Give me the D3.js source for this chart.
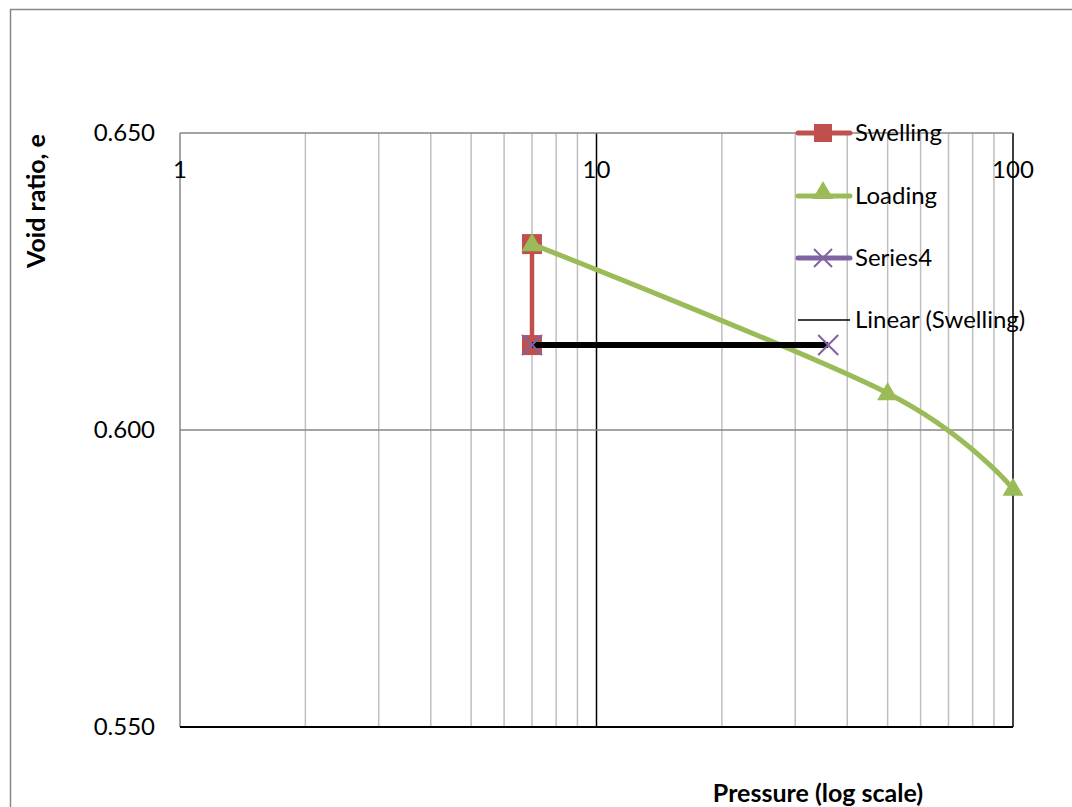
<!DOCTYPE html>
<html>
<head>
<meta charset="utf-8">
<script src="https://cdn.jsdelivr.net/npm/d3@7"></script>
<style>
  html, body { margin: 0; padding: 0; background: #fff; }
  svg { display: block; font-family: Lato, "Open Sans", "Liberation Sans", sans-serif; }
</style>
</head>
<body>
<svg id="chart" width="1072" height="807"></svg>
<script>
// Oedometer test: void ratio against pressure (log scale)
const swellingP = [7, 7];
const swellingE = [0.6313, 0.6143];

const loadingP = [7, 50, 100];
const loadingE = [0.6313, 0.6062, 0.5901];

const series4P = [7, 36];
const series4E = [0.6143, 0.6143];

const trendP = [7, 36];
const trendE = [0.6143, 0.6143];

const xTickValues = [1, 10, 100];
const yTickValues = [0.55, 0.60, 0.65];
const legendNames = ["Swelling", "Loading", "Series4", "Linear (Swelling)"];

const svg = d3.select("#chart");

const plotLeft = 180, plotRight = 1013, plotTop = 133, plotBottom = 727;
const x = d3.scaleLog().domain([1, 100]).range([plotLeft, plotRight]);
const y = d3.scaleLinear().domain([0.55, 0.65]).range([plotBottom, plotTop]);

const red = "#c0504d", green = "#9bbb59", purple = "#8064a2";

// outer chart frame
svg.append("rect")
  .attr("x", 10.5).attr("y", 9.5)
  .attr("width", 1100).attr("height", 900)
  .attr("fill", "none").attr("stroke", "#868686").attr("stroke-width", 1.5);

// minor vertical gridlines
const minor = [];
[1, 10].forEach(d => { for (let k = 2; k <= 9; k++) minor.push(d * k); });
svg.append("g").selectAll("line").data(minor).join("line")
  .attr("x1", d => x(d)).attr("x2", d => x(d))
  .attr("y1", plotTop).attr("y2", plotBottom)
  .attr("stroke", "#bfbfbf").attr("stroke-width", 1.5);

// major vertical gridlines
svg.append("g").selectAll("line").data(xTickValues.slice(1)).join("line")
  .attr("x1", d => x(d)).attr("x2", d => x(d))
  .attr("y1", plotTop).attr("y2", plotBottom)
  .attr("stroke", "#000").attr("stroke-width", 1.5);

// horizontal gridlines
svg.append("g").selectAll("line").data(yTickValues.slice(1)).join("line")
  .attr("x1", plotLeft).attr("x2", plotRight)
  .attr("y1", d => y(d)).attr("y2", d => y(d))
  .attr("stroke", "#868686").attr("stroke-width", 1.5);

// y axis line (left)
svg.append("line")
  .attr("x1", plotLeft).attr("x2", plotLeft).attr("y1", plotTop).attr("y2", plotBottom)
  .attr("stroke", "#868686").attr("stroke-width", 1.5);
// x axis line (bottom)
svg.append("line")
  .attr("x1", plotLeft).attr("x2", plotRight).attr("y1", plotBottom).attr("y2", plotBottom)
  .attr("stroke", "#000").attr("stroke-width", 2);

// y tick labels
svg.append("g").selectAll("text").data(yTickValues).join("text")
  .attr("x", 155).attr("y", d => y(d))
  .attr("dy", "0.35em").attr("text-anchor", "end")
  .attr("font-size", 24).attr("fill", "#000")
  .text(d => d3.format(".3f")(d));

// x tick labels (drawn just under the top of the plot)
svg.append("g").selectAll("text").data(xTickValues).join("text")
  .attr("x", d => x(d)).attr("y", 178)
  .attr("text-anchor", "middle")
  .attr("font-size", 24).attr("fill", "#000")
  .text(d => d);

// axis titles
svg.append("text")
  .attr("transform", "translate(45,201) rotate(-90)")
  .attr("text-anchor", "middle").attr("font-size", 25).attr("font-weight", "bold")
  .text("Void ratio, e");
svg.append("text")
  .attr("x", 818).attr("y", 802)
  .attr("text-anchor", "middle").attr("font-size", 25).attr("font-weight", "bold")
  .text("Pressure (log scale)");

const zip = (a, b) => a.map((v, i) => [v, b[i]]);
const swelling = zip(swellingP, swellingE);
const loading = zip(loadingP, loadingE);
const series4 = zip(series4P, series4E);
const trend = zip(trendP, trendE);

const line = d3.line().x(d => x(d[0])).y(d => y(d[1]));
const smooth = d3.line().x(d => x(d[0])).y(d => y(d[1])).curve(d3.curveCatmullRom.alpha(0));

// Swelling
svg.append("path").attr("d", line(swelling))
  .attr("fill", "none").attr("stroke", red).attr("stroke-width", 4.5);
svg.append("g").selectAll("rect").data(swelling).join("rect")
  .attr("x", d => x(d[0]) - 10).attr("y", d => y(d[1]) - 10)
  .attr("width", 20).attr("height", 20).attr("fill", red);

// Loading
svg.append("path").attr("d", smooth(loading))
  .attr("fill", "none").attr("stroke", green).attr("stroke-width", 5)
  .attr("stroke-linecap", "round");
const tri = d3.symbol().type(d3.symbolTriangle).size(190);
svg.append("g").selectAll("path").data(loading).join("path")
  .attr("transform", d => `translate(${x(d[0])},${y(d[1]) + 1})`)
  .attr("d", tri).attr("fill", green);

// Series4 line
svg.append("path").attr("d", line(series4))
  .attr("fill", "none").attr("stroke", purple).attr("stroke-width", 4);

// Linear trendline
svg.append("path").attr("d", line(trend))
  .attr("fill", "none").attr("stroke", "#000").attr("stroke-width", 6);

// Series4 markers
const cross = (cx, cy, r) => `M${cx - r},${cy - r}L${cx + r},${cy + r}M${cx - r},${cy + r}L${cx + r},${cy - r}`;
svg.append("g").selectAll("path").data(series4).join("path")
  .attr("d", d => cross(x(d[0]), y(d[1]), 10))
  .attr("stroke", purple).attr("stroke-width", 2).attr("fill", "none");

// Legend
const legendY = [133, 196, 258, 320];
const lx0 = 798, lx1 = 850, lmid = 823;
const lg = svg.append("g");
legendNames.forEach((name, i) => {
  const cy = legendY[i];
  const g = lg.append("g");
  if (i === 0) {
    g.append("line").attr("x1", lx0).attr("x2", lx1).attr("y1", cy).attr("y2", cy)
      .attr("stroke", red).attr("stroke-width", 5).attr("stroke-linecap", "round");
    g.append("rect").attr("x", lmid - 9).attr("y", cy - 9).attr("width", 18).attr("height", 18).attr("fill", red);
  } else if (i === 1) {
    g.append("line").attr("x1", lx0).attr("x2", lx1).attr("y1", cy).attr("y2", cy)
      .attr("stroke", green).attr("stroke-width", 5).attr("stroke-linecap", "round");
    g.append("path").attr("transform", `translate(${lmid},${cy - 3})`).attr("d", tri).attr("fill", green);
  } else if (i === 2) {
    g.append("line").attr("x1", lx0).attr("x2", lx1).attr("y1", cy).attr("y2", cy)
      .attr("stroke", purple).attr("stroke-width", 5).attr("stroke-linecap", "round");
    g.append("path").attr("d", cross(lmid, cy, 9)).attr("stroke", purple).attr("stroke-width", 2).attr("fill", "none");
  } else {
    g.append("line").attr("x1", lx0).attr("x2", lx1).attr("y1", cy).attr("y2", cy)
      .attr("stroke", "#000").attr("stroke-width", 1.5);
  }
  g.append("text").attr("x", 855).attr("y", cy).attr("dy", "0.35em")
    .attr("font-size", 24).attr("fill", "#000").text(name);
});
</script>
</body>
</html>
